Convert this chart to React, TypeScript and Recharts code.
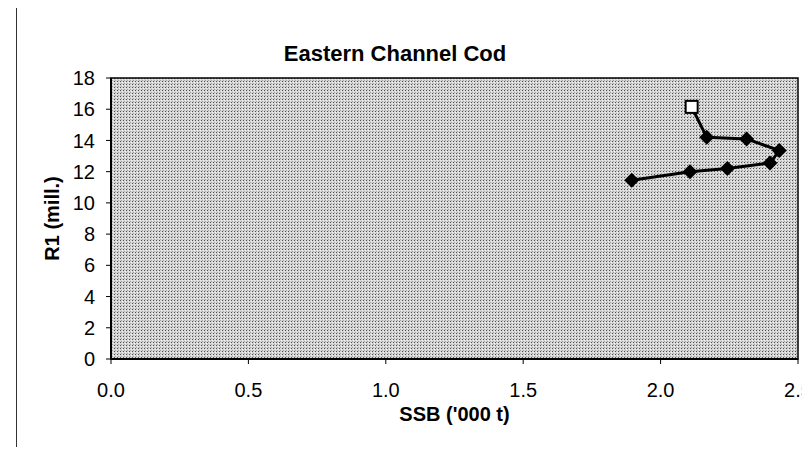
// @ts-nocheck
import { ScatterChart, Scatter, XAxis, YAxis, ReferenceArea } from 'recharts';

// SSB ('000 t) against R1 (mill.), oldest point first
const ssbValues = [1.895, 2.107, 2.243, 2.398, 2.432, 2.313, 2.168, 2.113];
const r1Values = [11.45, 12.0, 12.2, 12.55, 13.35, 14.1, 14.2, 16.15];
// last point is drawn as an open square, the rest as filled diamonds
const markTypes = ['diamond', 'diamond', 'diamond', 'diamond', 'diamond', 'diamond', 'diamond', 'square'];

const xTicks = [0, 0.5, 1.0, 1.5, 2.0, 2.5];
const yTicks = [0, 2, 4, 6, 8, 10, 12, 14, 16, 18];

const points = ssbValues.map((x, i) => ({ x, y: r1Values[i], mark: markTypes[i] }));

const font = 'Arial, "Liberation Sans", sans-serif';

const Marker = (props: any) => {
  const { cx, cy, payload } = props;
  if (cx == null || cy == null) return null;
  if (payload.mark === 'square') {
    return <rect x={cx - 6} y={cy - 6} width={12} height={12} fill="#fff" stroke="#000" strokeWidth={2} />;
  }
  const r = 7.5;
  return (
    <polygon
      points={`${cx},${cy - r} ${cx + r},${cy} ${cx},${cy + r} ${cx - r},${cy}`}
      fill="#000"
    />
  );
};

export default function App() {
  return (
    <div style={{ margin: -8, width: 810, height: 455, position: 'relative', overflow: 'hidden', background: '#fff', fontFamily: font }}>
      {/* outer chart frame, runs past the window on the right and bottom */}
      <div style={{ position: 'absolute', left: 16, top: 5, width: 840, height: 480, border: '1px solid #333' }} />
      <div style={{ position: 'absolute', left: 0, top: 41, width: 790, textAlign: 'center', fontSize: 22, lineHeight: '25px', fontWeight: 'bold', color: '#000' }}>
        Eastern Channel Cod
      </div>
      <div style={{ position: 'absolute', left: 0, top: 0 }}>
        <ScatterChart width={810} height={455} margin={{ top: 78, right: 12, bottom: 26, left: 21 }}>
          <defs>
            <pattern id="stipple" width="3" height="3" patternUnits="userSpaceOnUse">
              <rect width="3" height="3" fill="#d6d6d6" />
              <rect x="0" y="0" width="1" height="1" fill="#4e4e4e" />
              <rect x="1" y="2" width="1" height="1" fill="#a4a4a4" />
              <rect x="2" y="1" width="1" height="1" fill="#eeeeee" />
            </pattern>
          </defs>
          <XAxis
            type="number"
            dataKey="x"
            domain={[0, 2.5]}
            ticks={xTicks}
            tickFormatter={(v) => v.toFixed(1)}
            interval={0}
            height={70}
            tickSize={5}
            tickMargin={19}
            axisLine={{ stroke: '#000', strokeWidth: 2 }}
            tickLine={{ stroke: '#000' }}
            tick={{ fill: '#000', fontSize: 20, fontFamily: font }}
            allowDataOverflow
            label={{ value: "SSB ('000 t)", position: 'insideBottom', offset: 8, fill: '#000', fontSize: 20, fontWeight: 'bold', fontFamily: font }}
          />
          <YAxis
            type="number"
            dataKey="y"
            domain={[0, 18]}
            ticks={yTicks}
            interval={0}
            width={90}
            tickSize={5}
            tickMargin={11}
            axisLine={{ stroke: '#000', strokeWidth: 2 }}
            tickLine={{ stroke: '#000' }}
            tick={{ fill: '#000', fontSize: 20, fontFamily: font }}
            allowDataOverflow
            label={{ value: 'R1 (mill.)', angle: -90, position: 'insideLeft', offset: 31, fill: '#000', fontSize: 20, fontWeight: 'bold', fontFamily: font, style: { textAnchor: 'middle' } }}
          />
          <ReferenceArea x1={0} x2={2.5} y1={0} y2={18} fill="url(#stipple)" fillOpacity={1} stroke="#000" strokeWidth={1.5} ifOverflow="visible" />
          <Scatter
            data={points}
            line={{ stroke: '#000', strokeWidth: 3 }}
            lineType="joint"
            shape={<Marker />}
            isAnimationActive={false}
          />
        </ScatterChart>
      </div>
    </div>
  );
}
